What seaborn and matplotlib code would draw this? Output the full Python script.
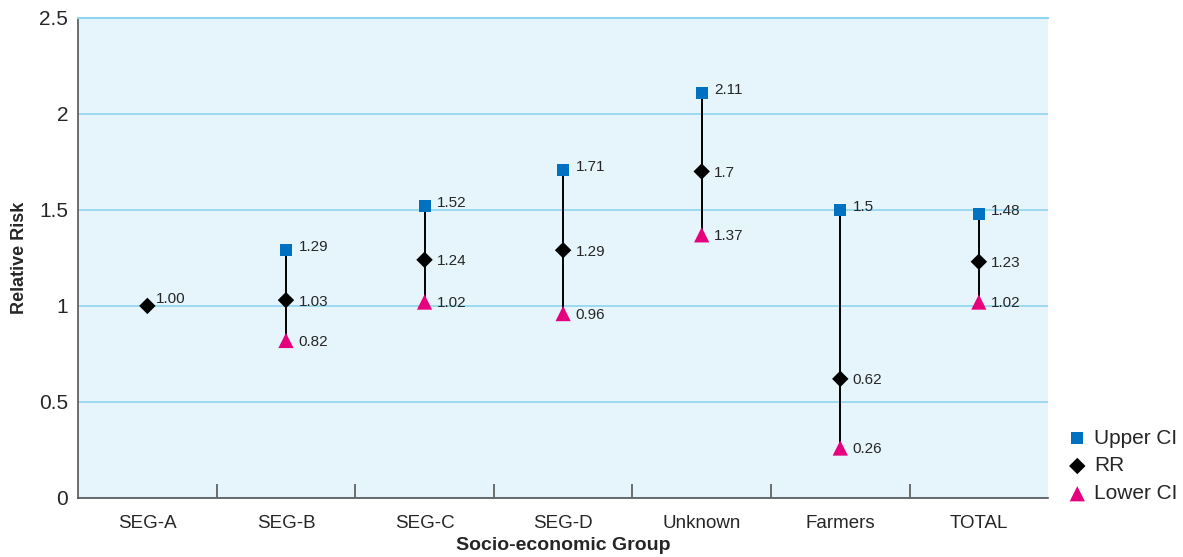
import matplotlib.pyplot as plt
import pandas as pd
import seaborn as sns

groups = ['SEG-A', 'SEG-B', 'SEG-C', 'SEG-D', 'Unknown', 'Farmers', 'TOTAL']
upper_ci = [None, 1.29, 1.52, 1.71, 2.11, 1.5, 1.48]
rr = [1.00, 1.03, 1.24, 1.29, 1.7, 0.62, 1.23]
lower_ci = [None, 0.82, 1.02, 0.96, 1.37, 0.26, 1.02]
rr_labels = ['1.00', '1.03', '1.24', '1.29', '1.7', '0.62', '1.23']

rows = []
for i, g in enumerate(groups):
    for series, vals in [('Upper CI', upper_ci), ('RR', rr), ('Lower CI', lower_ci)]:
        if vals[i] is not None:
            rows.append({'Group': g, 'pos': i, 'Series': series, 'Value': vals[i]})
df = pd.DataFrame(rows)

sns.set_style("white")
plt.rcParams['font.family'] = ['Liberation Sans', 'DejaVu Sans']

fig = plt.figure(figsize=(11.83, 5.57), dpi=100)
ax = fig.add_axes([0.066, 0.106, 0.82, 0.862])
ax.set_facecolor('#e6f5fc')

# error lines from lower to upper CI
for i in range(len(groups)):
    if upper_ci[i] is not None:
        ax.plot([i, i], [lower_ci[i], upper_ci[i]], color='black', lw=1.4, zorder=2)

colors = {'Upper CI': '#0070c0', 'RR': 'black', 'Lower CI': '#e6007e'}
markers = {'Upper CI': 's', 'RR': 'D', 'Lower CI': '^'}
sizes = {'Upper CI': 75, 'RR': 70, 'Lower CI': 120}
for s in ['Upper CI', 'RR', 'Lower CI']:
    sub = df[df['Series'] == s]
    sns.scatterplot(data=sub, x='pos', y='Value', color=colors[s], marker=markers[s],
                    s=sizes[s], edgecolor='none', ax=ax, zorder=3, label=s)

# value labels
for i in range(len(groups)):
    if upper_ci[i] is not None:
        ax.annotate(f'{upper_ci[i]:g}', (i, upper_ci[i]), xytext=(9, 2), textcoords='offset points',
                    va='center', fontsize=11)
        ax.annotate(rr_labels[i], (i, rr[i]), xytext=(9, -1), textcoords='offset points',
                    va='center', fontsize=11)
        ax.annotate(f'{lower_ci[i]:g}', (i, lower_ci[i]), xytext=(9, -1), textcoords='offset points',
                    va='center', fontsize=11)
    else:
        ax.annotate(rr_labels[i], (i, rr[i]), xytext=(6, 5), textcoords='offset points',
                    va='center', fontsize=11)

ax.set_xlim(-0.5, len(groups) - 0.5)
ax.set_ylim(0, 2.5)
ax.set_yticks([0, 0.5, 1, 1.5, 2, 2.5])
ax.set_yticklabels(['0', '0.5', '1', '1.5', '2', '2.5'], fontsize=15)
ax.yaxis.grid(True, color='#8fd5ef', lw=1.2)
ax.set_axisbelow(True)
ax.set_xticks(range(len(groups)))
ax.set_xticklabels(groups, fontsize=13.5)
ax.set_xticks([i + 0.5 for i in range(len(groups) - 1)], minor=True)
ax.tick_params(axis='x', which='major', length=0, pad=12)
ax.tick_params(axis='x', which='minor', bottom=True, direction='in', length=10, width=1.2,
               color='#555555')
ax.tick_params(axis='y', length=0, pad=7)

for side in ['left', 'bottom']:
    ax.spines[side].set_color('#555555')
    ax.spines[side].set_linewidth(1.2)
ax.spines['right'].set_visible(False)
ax.spines['top'].set_color('#8fd5ef')
ax.spines['top'].set_linewidth(1.5)

ax.set_xlabel('Socio-economic Group', fontsize=14, fontweight='bold', labelpad=4)
ax.set_ylabel('Relative Risk', fontsize=13, fontweight='bold', labelpad=8)

ax.legend(loc='lower left', bbox_to_anchor=(1.0, -0.05), frameon=False, fontsize=15,
          handletextpad=0.3, labelspacing=0.42, handlelength=1.0)

plt.savefig('out.png', dpi=100)
